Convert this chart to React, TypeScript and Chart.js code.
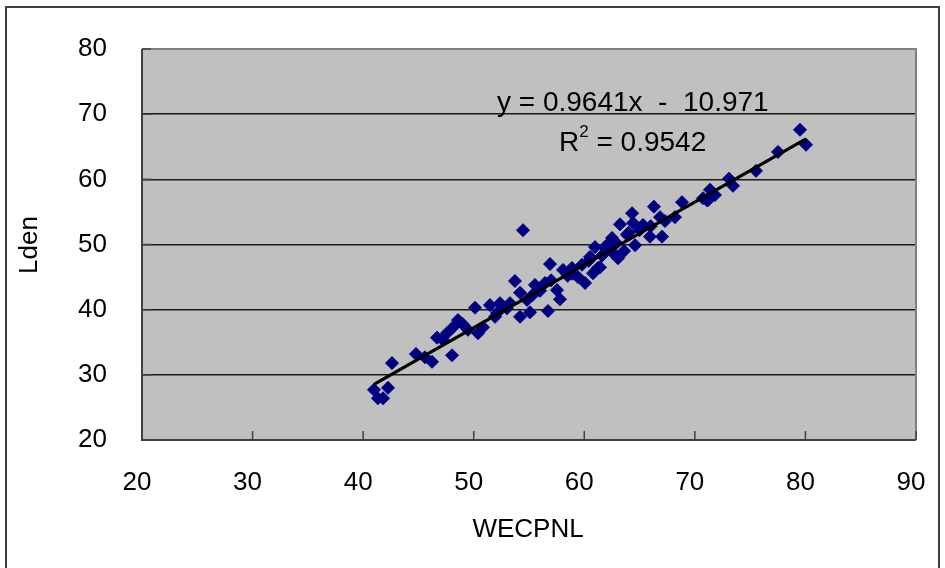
import React, { useEffect, useRef } from "react";
import { Chart, registerables } from "chart.js";

Chart.register(...registerables);

// WECPNL (x) values
const wecpnl: number[] = [
  40.98, 41.34, 41.8, 42.25, 42.61, 44.78, 45.59, 46.23, 48.04, 46.68,
  47.58, 48.13, 48.58, 49.48, 50.12, 50.39, 50.84, 51.47, 52.11, 52.38,
  53.28, 51.93, 53.73, 54.19, 54.82, 54.19, 55.09, 54.46, 55.54, 56.45,
  56.72, 57.53, 57.8, 56.9, 58.08, 58.89, 59.43, 60.07, 60.52, 61.24,
  60.79, 61.42, 60.97, 61.87, 62.6, 63.05, 62.51, 63.86, 64.59, 65.94,
  67.03, 63.23, 64.41, 65.31, 64.32, 66.3, 66.85, 68.2, 68.84, 71.1,
  79.51, 80.05, 77.52, 75.53, 73.09, 73.45, 70.74, 71.19, 71.82, 71.37,
  67.3, 62.0, 59.8, 58.5, 56.0, 55.3, 49.0, 47.2, 62.9, 65.0,
  61.6, 62.3, 63.6, 60.4, 57.0, 53.0, 55.8, 58.9, 64.0, 66.0,
];
// Lden (y) values
const lden: number[] = [
  27.7, 26.4, 26.4, 28.0, 31.8, 33.2, 32.7, 32.0, 33.0, 35.7,
  36.4, 37.3, 38.4, 36.9, 40.3, 36.4, 37.3, 40.7, 39.5, 41.0,
  41.0, 38.9, 44.4, 42.6, 41.5, 38.9, 39.6, 52.2, 43.8, 44.1,
  39.8, 43.0, 41.6, 47.0, 46.1, 46.4, 45.0, 44.1, 48.1, 46.4,
  45.6, 46.5, 49.6, 49.6, 48.7, 47.9, 51.0, 51.5, 49.9, 51.2,
  51.2, 53.1, 53.3, 53.0, 54.8, 55.8, 54.2, 54.2, 56.5, 56.8,
  67.6, 65.3, 64.2, 61.3, 60.1, 59.0, 57.1, 56.8, 57.6, 58.4,
  53.6, 49.3, 46.9, 45.2, 42.9, 42.2, 37.8, 35.4, 50.2, 52.2,
  48.3, 50.3, 49.0, 47.5, 44.5, 40.2, 43.0, 45.5, 51.8, 52.8,
];

const trendSlope = 0.9641;
const trendIntercept = -10.971;
const equationText = "y = 0.9641x  -  10.971";
const r2Text = " = 0.9542";

const xTicks = [20, 30, 40, 50, 60, 70, 80, 90];
const yTicks = [20, 30, 40, 50, 60, 70, 80];
const xTitle = "WECPNL";
const yTitle = "Lden";

const FONT = "'Liberation Sans', Arial, sans-serif";

export default function App() {
  const ref = useRef<HTMLCanvasElement | null>(null);

  useEffect(() => {
    document.body.style.margin = "0";
    const canvas = ref.current;
    if (!canvas) return;

    const points = wecpnl.map((x, i) => ({ x, y: lden[i] }));
    const xMin = Math.min(...wecpnl);
    const xMax = Math.max(...wecpnl);
    const trend = [
      { x: xMin, y: trendSlope * xMin + trendIntercept },
      { x: xMax, y: trendSlope * xMax + trendIntercept },
    ];

    const decor = {
      id: "decor",
      beforeDraw(chart: any) {
        const { ctx, chartArea: a } = chart;
        ctx.save();
        ctx.fillStyle = "#ffffff";
        ctx.fillRect(0, 0, chart.width, chart.height);
        ctx.strokeStyle = "#404040";
        ctx.lineWidth = 2;
        ctx.strokeRect(6, 7, 933, 580);
        ctx.fillStyle = "#c0c0c0";
        ctx.fillRect(a.left, a.top, a.right - a.left, a.bottom - a.top);
        ctx.restore();
      },
      afterDraw(chart: any) {
        const { ctx, chartArea: a, scales } = chart;
        ctx.save();
        // plot border
        ctx.lineWidth = 2;
        ctx.strokeStyle = "#808080";
        ctx.beginPath();
        ctx.moveTo(a.left, a.top);
        ctx.lineTo(a.right, a.top);
        ctx.lineTo(a.right, a.bottom);
        ctx.stroke();
        ctx.strokeStyle = "#404040";
        ctx.beginPath();
        ctx.moveTo(a.left, a.top);
        ctx.lineTo(a.left, a.bottom);
        ctx.lineTo(a.right, a.bottom);
        ctx.stroke();
        // inside tick marks
        ctx.lineWidth = 1.5;
        xTicks.forEach((v) => {
          const px = scales.x.getPixelForValue(v);
          ctx.beginPath();
          ctx.moveTo(px, a.bottom);
          ctx.lineTo(px, a.bottom - 9);
          ctx.stroke();
        });
        yTicks.forEach((v) => {
          const py = scales.y.getPixelForValue(v);
          ctx.beginPath();
          ctx.moveTo(a.left, py);
          ctx.lineTo(a.left + 9, py);
          ctx.stroke();
        });
        // axis titles
        ctx.fillStyle = "#000";
        ctx.font = `26px ${FONT}`;
        ctx.textAlign = "center";
        ctx.textBaseline = "middle";
        ctx.fillText(xTitle, 528, 530);
        ctx.save();
        ctx.translate(30, 245);
        ctx.rotate(-Math.PI / 2);
        ctx.fillText(yTitle, 0, 0);
        ctx.restore();
        // equation
        ctx.font = `28px ${FONT}`;
        ctx.textAlign = "left";
        ctx.fillText(equationText, 497, 103);
        ctx.fillText("R", 559, 143);
        const rw = ctx.measureText("R").width;
        ctx.font = `17px ${FONT}`;
        ctx.fillText("2", 559 + rw, 132);
        const sw = ctx.measureText("2").width;
        ctx.font = `28px ${FONT}`;
        ctx.fillText(r2Text, 559 + rw + sw, 143);
        ctx.restore();
      },
    };

    const chart = new Chart(canvas, {
      type: "scatter",
      data: {
        datasets: [
          {
            type: "line",
            data: trend,
            borderColor: "#000000",
            borderWidth: 3.2,
            pointRadius: 0,
            fill: false,
          } as any,
          {
            data: points,
            pointStyle: "rectRot",
            pointRadius: 6.5,
            backgroundColor: "#000080",
            borderColor: "#000080",
            borderWidth: 1,
          },
        ],
      },
      plugins: [decor],
      options: {
        animation: false,
        responsive: false,
        events: [],
        layout: { padding: { left: 0, right: 29, top: 49, bottom: 0 } },
        plugins: { legend: { display: false }, tooltip: { enabled: false } },
        scales: {
          x: {
            type: "linear",
            min: 20,
            max: 90,
            afterFit(scale: any) {
              scale.height = 128;
              scale.paddingLeft = 0;
              scale.paddingRight = 0;
            },
            afterBuildTicks(scale: any) {
              scale.ticks = xTicks.map((v) => ({ value: v }));
            },
            border: { display: false },
            grid: { display: false, drawTicks: false },
            ticks: {
              padding: 27,
              labelOffset: -5,
              color: "#000",
              font: { family: FONT, size: 26 },
              maxRotation: 0,
            },
          },
          y: {
            type: "linear",
            min: 20,
            max: 80,
            afterFit(scale: any) {
              scale.width = 142;
              scale.paddingTop = 0;
              scale.paddingBottom = 0;
            },
            afterBuildTicks(scale: any) {
              scale.ticks = yTicks.map((v) => ({ value: v }));
            },
            border: { display: false },
            grid: {
              drawTicks: false,
              lineWidth: 1.5,
              color: (c: any) =>
                c.tick && (c.tick.value === 20 || c.tick.value === 80)
                  ? "rgba(0,0,0,0)"
                  : "#1a1a1a",
            },
            ticks: {
              padding: 35,
              color: "#000",
              font: { family: FONT, size: 26 },
            },
          },
        },
      },
    });
    return () => chart.destroy();
  }, []);

  return (
    <div style={{ position: "fixed", left: 0, top: 0, width: 945, height: 568, background: "#fff" }}>
      <canvas ref={ref} width={945} height={568} style={{ width: 945, height: 568 }} />
    </div>
  );
}
